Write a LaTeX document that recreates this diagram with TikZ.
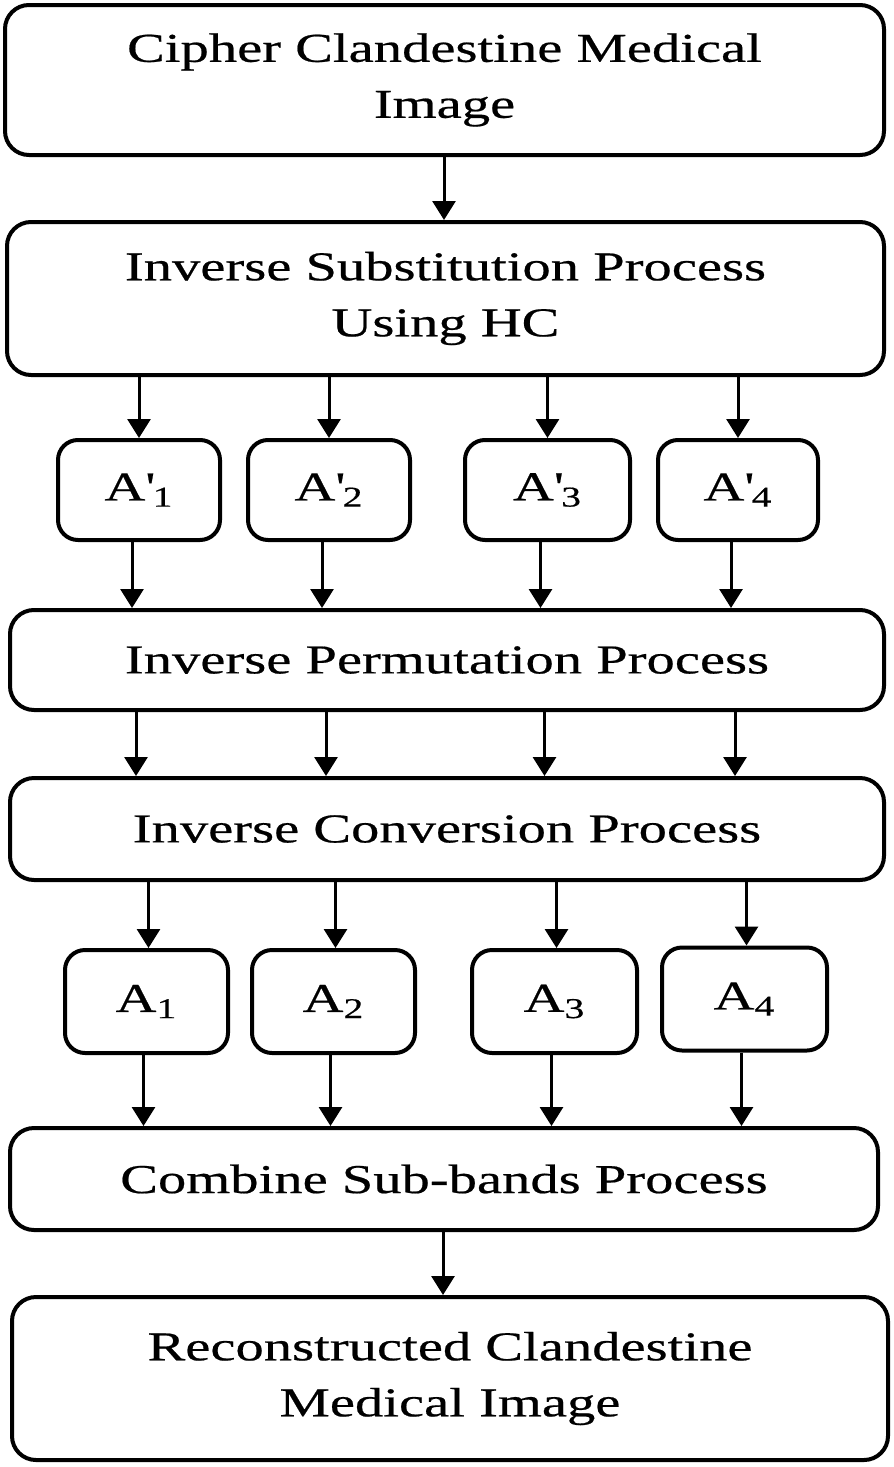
\documentclass[tikz,border=0pt]{standalone}
\usepackage{fontspec}
\setmainfont{Liberation Serif}[FakeStretch=1.38,FakeBold=0.5]
\usetikzlibrary{arrows.meta}
\begin{document}
\begin{tikzpicture}[x=0.5pt,y=-0.5pt,
  box/.style={draw, line width=2pt, rounded corners=12pt, align=center, inner sep=0pt,
    font=\fontsize{20.5}{28}\selectfont},
  sbox/.style={box, rounded corners=10pt, minimum height=50pt},
  arr/.style={-{Triangle[length=9.5pt,width=11.5pt]}, line width=1.5pt}]
\useasboundingbox (0,0) rectangle (894,1467);
% main boxes
\node[box, minimum width=439.5pt, minimum height=75pt] (b1) at (444.5,80) {Cipher Clandestine Medical\\Image};
\node[box, minimum width=438.5pt, minimum height=76.5pt] (b2) at (445.5,298.5) {Inverse Substitution Process\\Using HC};
\node[sbox, minimum width=81pt] (ap1) at (139,490) {A\textquotesingle\textsubscript{1}};
\node[sbox, minimum width=81pt] (ap2) at (329,490) {A\textquotesingle\textsubscript{2}};
\node[sbox, minimum width=82.5pt] (ap3) at (547.5,490) {A\textquotesingle\textsubscript{3}};
\node[sbox, minimum width=80pt] (ap4) at (738,490) {A\textquotesingle\textsubscript{4}};
\node[box, minimum width=437pt, minimum height=50pt] (p) at (447,660) {Inverse Permutation Process};
\node[box, minimum width=437pt, minimum height=51pt] (c) at (447,829) {Inverse Conversion Process};
\node[sbox, minimum width=81.5pt, minimum height=51.5pt] (a1) at (146.5,1001.5) {A\textsubscript{1}};
\node[sbox, minimum width=81.5pt, minimum height=51.5pt] (a2) at (333.5,1001.5) {A\textsubscript{2}};
\node[sbox, minimum width=82.5pt, minimum height=51.5pt] (a3) at (554.5,1001.5) {A\textsubscript{3}};
\node[sbox, minimum width=82.5pt, minimum height=51.5pt] (a4) at (744.5,999) {A\textsubscript{4}};
\node[box, minimum width=434pt, minimum height=51pt] (cb) at (444,1179) {Combine Sub-bands Process};
\node[box, minimum width=438pt, minimum height=81.5pt] (r) at (450,1378.5) {Reconstructed Clandestine\\Medical Image};
% connectors
\draw[arr] (b1.south -| 444,0) -- (b2.north -| 444,0);
\foreach \n in {ap1,ap2,ap3,ap4}{
  \draw[arr] (b2.south -| \n) -- (\n.north);
}
\foreach \n in {ap1,ap2,ap3,ap4}{
  \draw[arr] ([xshift=-3.5pt]\n.south) -- ([xshift=-3.5pt]p.north -| \n);
}
\foreach \n in {ap1,ap2,ap3,ap4}{
  \draw[arr] ([xshift=-1.5pt]p.south -| \n) -- ([xshift=-1.5pt]c.north -| \n);
}
\foreach \n in {a1,a2,a3,a4}{
  \draw[arr] ([xshift=1pt]c.south -| \n) -- ([xshift=1pt]\n.north);
}
\foreach \n in {a1,a2,a3,a4}{
  \draw[arr] ([xshift=-1.5pt]\n.south) -- ([xshift=-1.5pt]cb.north -| \n);
}
\draw[arr] (cb.south -| 443,0) -- (r.north -| 443,0);
\end{tikzpicture}
\end{document}
